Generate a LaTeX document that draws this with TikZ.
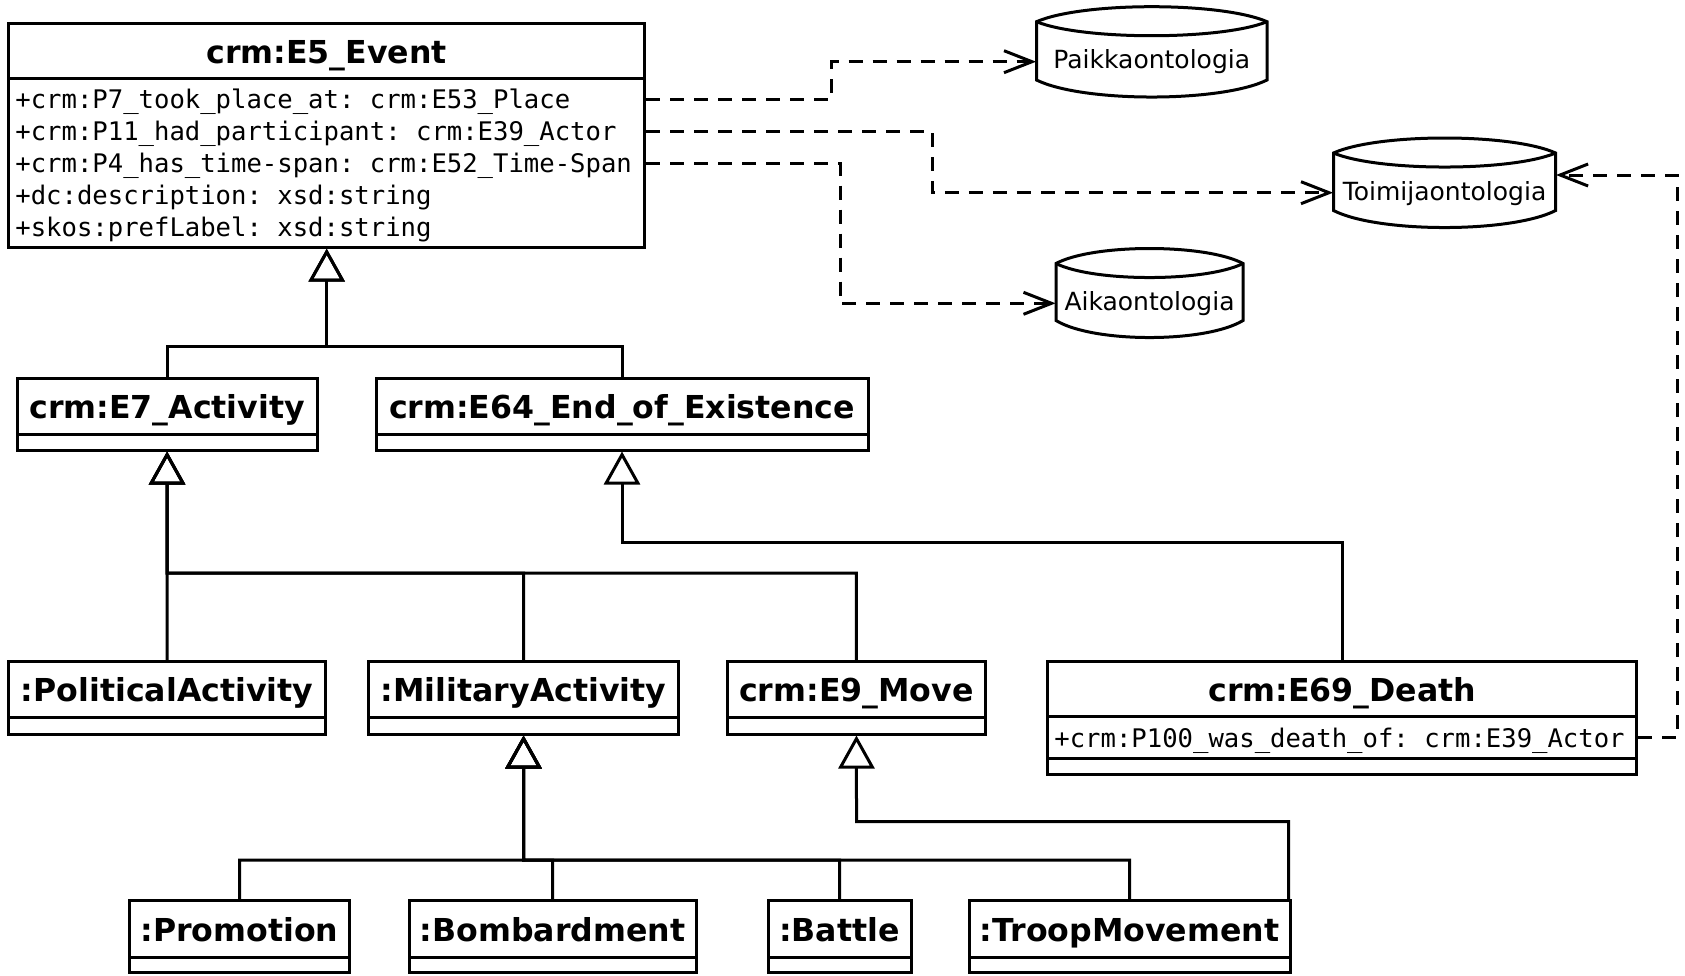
\documentclass[tikz,border=0pt]{standalone}
\usepackage{fontspec}
\setmainfont{DejaVu Sans}
\newfontfamily\monof{DejaVu Sans Mono}
\usetikzlibrary{arrows.meta,fit}
\tikzset{
  cls/.style={draw, line width=1.5pt, inner sep=0pt},
  sep/.style={line width=1.5pt},
  ttl/.style={font=\fontsize{15.8}{18}\selectfont\bfseries, text height=11.5pt, text depth=0pt, inner sep=0pt},
  attr/.style={font=\monof\frenchspacing\fontsize{12.8}{15}\selectfont, anchor=west, text height=9.3pt, text depth=0pt, inner sep=0pt},
  dbtxt/.style={font=\fontsize{12.5}{15}\selectfont, text height=9.1pt, text depth=0pt, inner sep=0pt},
  gen/.style={line width=1.5pt, -{Triangle[open,length=16.5pt,width=18pt]}},
  dep/.style={line width=1.5pt, dash pattern=on 7pt off 5pt, -{Straight Barb[length=14pt,width=11pt]}},
}
\newcommand\cylshape[4]{%
  \draw[sep] (#1,#3) .. controls ({#1+0.2*(#2-#1)},{#3-20}) and ({#2-0.2*(#2-#1)},{#3-20}) .. (#2,#3)
     -- (#2,#4) .. controls ({#2-0.2*(#2-#1)},{#4+22.7}) and ({#1+0.2*(#2-#1)},{#4+22.7}) .. (#1,#4) -- cycle;
  \draw[sep] (#1,#3) .. controls ({#1+0.2*(#2-#1)},{#3+18.7}) and ({#2-0.2*(#2-#1)},{#3+18.7}) .. (#2,#3);}
\newcommand\simplecls[7]{%
  \node[cls, fit={(#2,#3) (#4,#5)}] (#1) {};
  \draw[sep] (#2,#6) -- (#4,#6);
  \node[ttl] (#1t) at ({(#2+#4)/2},{(#3+#6)/2+1}) {#7};}
\begin{document}
\begin{tikzpicture}[x=0.5pt,y=-0.5pt]
\useasboundingbox (0,0) rectangle (1685,975);
% E5 Event
\node[cls, fit={(8.6,23.6) (644.8,247.2)}] (e5) {};
\draw[sep] (8.6,78.4) -- (644.8,78.4);
\node[ttl] (e5t) at (326.7,51.5) {crm:E5\_Event};
\node[attr] (a1) at (15,99.3) {+crm:P7\_took\_place\_at: crm:E53\_Place};
\node[attr] (a2) at (15,131.3) {+crm:P11\_had\_participant: crm:E39\_Actor};
\node[attr] (a3) at (15,163.3) {+crm:P4\_has\_time-span: crm:E52\_Time-Span};
\node[attr] (a4) at (15,195.3) {+dc:description: xsd:string};
\node[attr] (a5) at (15,227.3) {+skos:prefLabel: xsd:string};
% middle classes
\simplecls{e7}{17.2}{378}{317}{450}{434}{crm:E7\_Activity}
\simplecls{e64}{376}{378}{868}{450}{434}{crm:E64\_End\_of\_Existence}
\simplecls{pol}{8.6}{661.7}{325.6}{734}{717}{:PoliticalActivity}
\simplecls{mil}{368.6}{661.7}{678.5}{734}{717}{:MilitaryActivity}
\simplecls{e9}{727.5}{661.7}{985.4}{734}{717}{crm:E9\_Move}
% E69
\node[cls, fit={(1047.7,661.7) (1636.6,774)}] (e69) {};
\draw[sep] (1047.7,716.7) -- (1636.6,716.7);
\draw[sep] (1047.7,758) -- (1636.6,758);
\node[ttl] (e69t) at (1342.2,690.2) {crm:E69\_Death};
\node[attr] (d1) at (1054,737.7) {+crm:P100\_was\_death\_of: crm:E39\_Actor};
% bottom row
\simplecls{prom}{129.5}{900.7}{349.5}{972}{957}{:Promotion}
\simplecls{bomb}{409}{900.7}{696}{972}{957}{:Bombardment}
\simplecls{bat}{768}{900.7}{911}{972}{957}{:Battle}
\simplecls{troop}{969}{900.7}{1290}{972}{957}{:TroopMovement}
% ontologies
\cylshape{1036.5}{1267}{21.7}{80}
\node[fit={(1036.5,6.7) (1267,97)}, inner sep=0pt] (paikka) {};
\node[dbtxt] (paikkat) at (1151.75,59) {Paikkaontologia};
\cylshape{1333.5}{1555.6}{153}{210.5}
\node[fit={(1333.5,138) (1555.6,228)}, inner sep=0pt] (toimija) {};
\node[dbtxt] (toimijat) at (1444.5,191) {Toimijaontologia};
\cylshape{1056}{1243}{263.5}{320.5}
\node[fit={(1056,248.5) (1243,337.5)}, inner sep=0pt] (aika) {};
\node[dbtxt] (aikat) at (1149.5,301) {Aikaontologia};
% dependencies
\coordinate (b1) at (831.5,61.7);
\coordinate (b2) at (932.5,192.7);
\coordinate (b3) at (840,303.3);
\coordinate (b4) at (1677,175);
\draw[dep] (e5.east |- a1) -| (b1) -- (paikka.west |- b1);
\draw[dep] (e5.east |- a2) -| (b2) -- (toimija.west |- b2);
\draw[dep] (e5.east |- a3) -| (b3) -- (aika.west |- b3);
\draw[dep] (e69.east |- d1) -| (b4) -- (toimija.east |- b4);
% generalizations
\coordinate (j1) at (326.7,346);
\coordinate (j2) at (167.1,573);
\coordinate (j3) at (622,542.7);
\coordinate (j4) at (523.5,860);
\coordinate (j5) at (856.5,821.7);
\draw[gen] (e7.north) |- (j1) -- (e5.south);
\draw[gen] (e64.north) |- (j1) -- (e5.south);
\draw[gen] (pol.north) -- (e7.south);
\draw[gen] (mil.north) |- (j2) -- (e7.south);
\draw[gen] (e9.north) |- (j2) -- (e7.south);
\draw[gen] (e69.north) |- (j3) -- (e64.south);
\draw[gen] (prom.north) |- (j4) -- (mil.south);
\draw[gen] (bomb.north) |- (j4) -- (mil.south);
\draw[gen] (bat.north) |- (j4) -- (mil.south);
\draw[gen] (troop.north) |- (j4) -- (mil.south);
\draw[gen] ([xshift=-1.5pt]troop.north east) |- (j5) -- (e9.south);
\end{tikzpicture}
\end{document}
